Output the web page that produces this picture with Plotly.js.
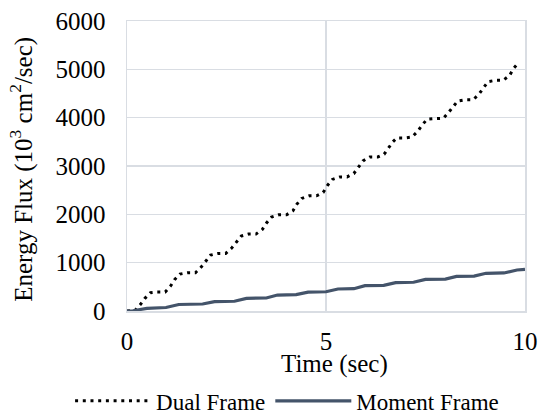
<!DOCTYPE html>
<html>
<head>
<meta charset="utf-8">
<script src="https://cdn.plot.ly/plotly-3.0.1.min.js"></script>
<style>html,body{margin:0;padding:0;background:#fff;}#chart{width:538px;height:415px;}</style>
</head>
<body>
<div id="chart"></div>
<script>
// Dual Frame energy flux (10^3 cm^2/sec) vs time (sec)
const dualTime = [0,0.2,0.34,0.45,0.59,0.76,0.96,1.10,1.20,1.33,1.53,1.72,1.87,1.98,2.10,2.29,2.48,2.63,2.74,2.87,3.05,3.24,3.40,3.51,3.63,3.81,4.01,4.17,4.27,4.39,4.58,4.76,4.93,5.03,5.16,5.35,5.53,5.70,5.82,5.93,6.10,6.30,6.46,6.58,6.68,6.78,6.98,7.16,7.30,7.41,7.54,7.74,7.95,8.07,8.18,8.31,8.51,8.70,8.84,8.95,9.07,9.26,9.45,9.61,9.71,9.84];
const dualFlux = [0,10,139,262,379,393,393,524,654,764,792,792,916,1040,1157,1191,1191,1302,1426,1550,1591,1591,1688,1826,1943,1991,1991,2074,2212,2329,2384,2384,2453,2591,2722,2775,2775,2845,2982,3106,3188,3188,3244,3374,3500,3581,3581,3600,3713,3843,3967,3980,3987,4097,4221,4345,4373,4373,4483,4621,4745,4773,4773,4870,5014,5138];

// Moment Frame energy flux
const momentTime = [0,0.15,0.5,0.98,1.3,1.9,2.2,2.7,3.0,3.5,3.78,4.25,4.55,5.0,5.3,5.7,5.98,6.45,6.75,7.2,7.5,8.0,8.28,8.72,9.02,9.47,9.8,10];
const momentFlux = [0,5,55,72,135,145,195,202,262,269,330,338,390,398,455,462,525,532,588,595,655,660,715,723,780,787,848,860];

const seriesNames = ["Dual Frame", "Moment Frame"];
const xTicks = [0,5,10];
const yTicks = [0,1000,2000,3000,4000,5000,6000];
const xTitle = "Time (sec)";
const yTitle = "Energy Flux (10<sup>3</sup> cm<sup>2</sup>/sec)";

const FONT = "Liberation Serif";
const GRID = "#d9dde3";

const traces = [
  {x: dualTime, y: dualFlux, name: seriesNames[0], type: "scatter", mode: "lines",
   line: {color: "#000000", width: 3, dash: "3px,4.7px"}},
  {x: momentTime, y: momentFlux, name: seriesNames[1], type: "scatter", mode: "lines",
   line: {color: "#44546A", width: 3.2}}
];

const layout = {
  width: 538, height: 415,
  margin: {l: 127, r: 13, t: 21, b: 104, autoexpand: false},
  paper_bgcolor: "#ffffff", plot_bgcolor: "#ffffff",
  font: {family: FONT, size: 25, color: "#000000"},
  showlegend: true,
  xaxis: {
    range: [0, 10], tickvals: xTicks, ticktext: xTicks.map(String),
    showgrid: true, gridcolor: GRID, gridwidth: 1.5, zeroline: false,
    showline: true, mirror: true, linecolor: GRID, linewidth: 1.5,
    ticks: "outside", ticklen: 7, tickcolor: "rgba(0,0,0,0)",
    tickfont: {family: FONT, size: 25, color: "#000"},
    automargin: false, fixedrange: true
  },
  yaxis: {
    range: [0, 6000], tickvals: yTicks, ticktext: yTicks.map(String),
    showgrid: true, gridcolor: GRID, gridwidth: 1.5, zeroline: false,
    showline: true, mirror: true, linecolor: GRID, linewidth: 1.5,
    ticks: "outside", ticklen: 15, tickcolor: "rgba(0,0,0,0)",
    tickfont: {family: FONT, size: 25, color: "#000"},
    automargin: false, fixedrange: true
  },
  annotations: [
    {text: xTitle, xref: "paper", yref: "paper", x: 0.521, y: -0.183,
     xanchor: "center", yanchor: "middle", showarrow: false,
     font: {family: FONT, size: 25, color: "#000"}},
    {text: yTitle, xref: "paper", yref: "paper", x: -0.264, y: 0.49,
     xanchor: "center", yanchor: "middle", showarrow: false, textangle: -90,
     font: {family: FONT, size: 25, color: "#000"}}
  ],
  legend: {
    orientation: "h", x: -0.143, xanchor: "left", y: -0.31, yanchor: "middle",
    font: {family: FONT, size: 23, color: "#000"},
    itemwidth: 76, bgcolor: "rgba(0,0,0,0)", traceorder: "normal"
  }
};

Plotly.newPlot("chart", traces, layout, {displayModeBar: false, staticPlot: true});
</script>
</body>
</html>
